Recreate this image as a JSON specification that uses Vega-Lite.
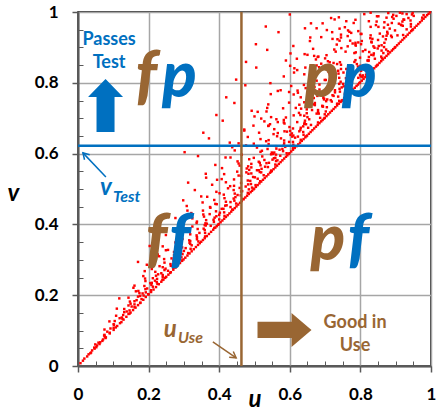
{
"$schema": "https://vega.github.io/schema/vega-lite/v6.json",
"width": 353, "height": 354,
"autosize": "none",
"padding": {"left": 78, "top": 12, "right": 6, "bottom": 48},
"config": {"view": {"stroke": "#000000", "strokeWidth": 1.5}, "font": "Lato"},
"resolve": {"axis": {"x": "independent", "y": "independent"}},
"layer": [
{
"data": {"values": [
{"u":0.007,"v":0.008},{"u":0.014,"v":0.015},{"u":0.018,"v":0.021},{"u":0.026,"v":0.027},{"u":0.030,"v":0.033},{"u":0.037,"v":0.038},{"u":0.040,"v":0.044},{"u":0.047,"v":0.049},
{"u":0.052,"v":0.053},{"u":0.054,"v":0.058},{"u":0.061,"v":0.062},{"u":0.058,"v":0.066},{"u":0.069,"v":0.071},{"u":0.071,"v":0.075},{"u":0.079,"v":0.081},{"u":0.074,"v":0.086},{"u":0.090,"v":0.092},{"u":0.083,"v":0.097},
{"u":0.101,"v":0.102},{"u":0.092,"v":0.106},{"u":0.107,"v":0.109},{"u":0.111,"v":0.113},{"u":0.101,"v":0.118},{"u":0.119,"v":0.121},{"u":0.089,"v":0.126},{"u":0.129,"v":0.131},{"u":0.118,"v":0.135},{"u":0.137,"v":0.139},{"u":0.128,"v":0.144},{"u":0.146,"v":0.148},
{"u":0.149,"v":0.151},{"u":0.138,"v":0.154},{"u":0.156,"v":0.158},{"u":0.131,"v":0.161},{"u":0.163,"v":0.165},{"u":0.152,"v":0.168},{"u":0.170,"v":0.172},{"u":0.149,"v":0.176},{"u":0.177,"v":0.179},{"u":0.160,"v":0.183},{"u":0.185,"v":0.187},{"u":0.117,"v":0.191},{"u":0.192,"v":0.195},{"u":0.176,"v":0.198},
{"u":0.200,"v":0.202},{"u":0.183,"v":0.205},{"u":0.207,"v":0.209},{"u":0.171,"v":0.212},{"u":0.214,"v":0.216},{"u":0.196,"v":0.219},{"u":0.221,"v":0.223},{"u":0.160,"v":0.227},{"u":0.229,"v":0.231},{"u":0.205,"v":0.234},{"u":0.236,"v":0.238},{"u":0.218,"v":0.241},{"u":0.242,"v":0.244},{"u":0.190,"v":0.247},{"u":0.247,"v":0.249},
{"u":0.250,"v":0.252},{"u":0.221,"v":0.255},{"u":0.256,"v":0.258},{"u":0.236,"v":0.262},{"u":0.263,"v":0.265},{"u":0.189,"v":0.268},{"u":0.270,"v":0.272},{"u":0.248,"v":0.275},{"u":0.276,"v":0.278},{"u":0.231,"v":0.282},{"u":0.283,"v":0.285},{"u":0.262,"v":0.288},{"u":0.289,"v":0.291},{"u":0.170,"v":0.294},{"u":0.295,"v":0.297},{"u":0.271,"v":0.299},
{"u":0.299,"v":0.301},{"u":0.265,"v":0.304},{"u":0.304,"v":0.306},{"u":0.281,"v":0.309},{"u":0.310,"v":0.312},{"u":0.226,"v":0.315},{"u":0.316,"v":0.318},{"u":0.292,"v":0.321},{"u":0.322,"v":0.324},{"u":0.249,"v":0.327},{"u":0.328,"v":0.330},{"u":0.305,"v":0.333},{"u":0.334,"v":0.336},{"u":0.203,"v":0.339},{"u":0.340,"v":0.342},{"u":0.318,"v":0.345},{"u":0.345,"v":0.347},{"u":0.276,"v":0.349},
{"u":0.349,"v":0.351},{"u":0.318,"v":0.353},{"u":0.354,"v":0.356},{"u":0.296,"v":0.359},{"u":0.359,"v":0.361},{"u":0.337,"v":0.364},{"u":0.365,"v":0.367},{"u":0.249,"v":0.370},{"u":0.371,"v":0.373},{"u":0.344,"v":0.376},{"u":0.377,"v":0.379},{"u":0.308,"v":0.382},{"u":0.383,"v":0.385},{"u":0.356,"v":0.388},{"u":0.389,"v":0.391},{"u":0.221,"v":0.393},{"u":0.393,"v":0.395},{"u":0.362,"v":0.397},{"u":0.397,"v":0.399},
{"u":0.399,"v":0.401},{"u":0.361,"v":0.403},{"u":0.404,"v":0.406},{"u":0.337,"v":0.408},{"u":0.409,"v":0.411},{"u":0.384,"v":0.413},{"u":0.414,"v":0.416},{"u":0.276,"v":0.418},{"u":0.419,"v":0.421},{"u":0.392,"v":0.423},{"u":0.424,"v":0.426},{"u":0.355,"v":0.428},{"u":0.429,"v":0.431},{"u":0.402,"v":0.433},{"u":0.434,"v":0.436},{"u":0.310,"v":0.439},{"u":0.439,"v":0.441},{"u":0.412,"v":0.444},{"u":0.444,"v":0.446},{"u":0.374,"v":0.449},
{"u":0.449,"v":0.451},{"u":0.417,"v":0.453},{"u":0.454,"v":0.456},{"u":0.389,"v":0.458},{"u":0.459,"v":0.461},{"u":0.432,"v":0.463},{"u":0.464,"v":0.466},{"u":0.298,"v":0.468},{"u":0.469,"v":0.471},{"u":0.441,"v":0.473},{"u":0.474,"v":0.476},{"u":0.366,"v":0.478},{"u":0.479,"v":0.481},{"u":0.452,"v":0.483},{"u":0.484,"v":0.486},{"u":0.401,"v":0.488},{"u":0.489,"v":0.491},{"u":0.462,"v":0.493},{"u":0.493,"v":0.495},{"u":0.331,"v":0.497},{"u":0.497,"v":0.499},
{"u":0.499,"v":0.501},{"u":0.458,"v":0.503},{"u":0.504,"v":0.506},{"u":0.431,"v":0.508},{"u":0.509,"v":0.511},{"u":0.482,"v":0.513},{"u":0.514,"v":0.516},{"u":0.312,"v":0.518},{"u":0.519,"v":0.521},{"u":0.488,"v":0.523},{"u":0.524,"v":0.526},{"u":0.407,"v":0.528},{"u":0.529,"v":0.531},{"u":0.501,"v":0.533},{"u":0.534,"v":0.536},{"u":0.455,"v":0.538},{"u":0.539,"v":0.541},{"u":0.362,"v":0.543},{"u":0.544,"v":0.546},{"u":0.515,"v":0.548},{"u":0.547,"v":0.549},{"u":0.477,"v":0.547},
{"u":0.549,"v":0.551},{"u":0.507,"v":0.553},{"u":0.554,"v":0.556},{"u":0.478,"v":0.558},{"u":0.559,"v":0.561},{"u":0.530,"v":0.563},{"u":0.564,"v":0.566},{"u":0.389,"v":0.568},{"u":0.569,"v":0.571},{"u":0.534,"v":0.573},{"u":0.574,"v":0.576},{"u":0.452,"v":0.578},{"u":0.579,"v":0.581},{"u":0.551,"v":0.583},{"u":0.584,"v":0.586},{"u":0.498,"v":0.588},{"u":0.589,"v":0.591},{"u":0.340,"v":0.593},{"u":0.593,"v":0.595},{"u":0.561,"v":0.597},{"u":0.597,"v":0.599},{"u":0.515,"v":0.574},{"u":0.432,"v":0.589},
{"u":0.599,"v":0.601},{"u":0.556,"v":0.603},{"u":0.604,"v":0.606},{"u":0.521,"v":0.608},{"u":0.609,"v":0.611},{"u":0.579,"v":0.613},{"u":0.614,"v":0.616},{"u":0.437,"v":0.618},{"u":0.619,"v":0.621},{"u":0.583,"v":0.623},{"u":0.624,"v":0.626},{"u":0.498,"v":0.628},{"u":0.629,"v":0.631},{"u":0.598,"v":0.633},{"u":0.634,"v":0.636},{"u":0.540,"v":0.638},{"u":0.639,"v":0.641},{"u":0.371,"v":0.643},{"u":0.644,"v":0.646},{"u":0.607,"v":0.648},{"u":0.647,"v":0.649},{"u":0.562,"v":0.614},{"u":0.455,"v":0.629},{"u":0.302,"v":0.604},
{"u":0.649,"v":0.651},{"u":0.602,"v":0.653},{"u":0.654,"v":0.656},{"u":0.566,"v":0.658},{"u":0.659,"v":0.661},{"u":0.627,"v":0.663},{"u":0.664,"v":0.666},{"u":0.471,"v":0.668},{"u":0.669,"v":0.671},{"u":0.631,"v":0.673},{"u":0.674,"v":0.676},{"u":0.539,"v":0.678},{"u":0.679,"v":0.681},{"u":0.646,"v":0.683},{"u":0.684,"v":0.686},{"u":0.583,"v":0.688},{"u":0.689,"v":0.691},{"u":0.410,"v":0.693},{"u":0.693,"v":0.695},{"u":0.655,"v":0.697},{"u":0.697,"v":0.699},{"u":0.601,"v":0.664},{"u":0.497,"v":0.679},{"u":0.621,"v":0.689},{"u":0.355,"v":0.659},
{"u":0.699,"v":0.701},{"u":0.650,"v":0.703},{"u":0.704,"v":0.706},{"u":0.611,"v":0.708},{"u":0.709,"v":0.711},{"u":0.676,"v":0.713},{"u":0.714,"v":0.716},{"u":0.509,"v":0.718},{"u":0.719,"v":0.721},{"u":0.680,"v":0.723},{"u":0.724,"v":0.726},{"u":0.581,"v":0.728},{"u":0.729,"v":0.731},{"u":0.694,"v":0.733},{"u":0.734,"v":0.736},{"u":0.627,"v":0.738},{"u":0.739,"v":0.741},{"u":0.443,"v":0.743},{"u":0.744,"v":0.746},{"u":0.703,"v":0.748},{"u":0.747,"v":0.749},{"u":0.648,"v":0.714},{"u":0.536,"v":0.729},{"u":0.668,"v":0.739},{"u":0.392,"v":0.709},{"u":0.598,"v":0.744},
{"u":0.749,"v":0.751},{"u":0.697,"v":0.753},{"u":0.754,"v":0.756},{"u":0.655,"v":0.758},{"u":0.759,"v":0.761},{"u":0.724,"v":0.763},{"u":0.764,"v":0.766},{"u":0.546,"v":0.768},{"u":0.769,"v":0.771},{"u":0.728,"v":0.773},{"u":0.774,"v":0.776},{"u":0.622,"v":0.778},{"u":0.779,"v":0.781},{"u":0.741,"v":0.783},{"u":0.784,"v":0.786},{"u":0.670,"v":0.788},{"u":0.789,"v":0.791},{"u":0.474,"v":0.793},{"u":0.793,"v":0.795},{"u":0.751,"v":0.797},{"u":0.797,"v":0.799},{"u":0.694,"v":0.764},{"u":0.574,"v":0.779},{"u":0.713,"v":0.789},{"u":0.420,"v":0.759},{"u":0.640,"v":0.794},{"u":0.598,"v":0.774},
{"u":0.799,"v":0.801},{"u":0.744,"v":0.803},{"u":0.804,"v":0.806},{"u":0.699,"v":0.808},{"u":0.809,"v":0.811},{"u":0.772,"v":0.813},{"u":0.814,"v":0.816},{"u":0.583,"v":0.818},{"u":0.819,"v":0.821},{"u":0.776,"v":0.823},{"u":0.824,"v":0.826},{"u":0.663,"v":0.828},{"u":0.829,"v":0.831},{"u":0.789,"v":0.833},{"u":0.834,"v":0.836},{"u":0.714,"v":0.838},{"u":0.839,"v":0.841},{"u":0.505,"v":0.843},{"u":0.844,"v":0.846},{"u":0.800,"v":0.848},{"u":0.847,"v":0.849},{"u":0.740,"v":0.814},{"u":0.612,"v":0.829},{"u":0.760,"v":0.839},{"u":0.448,"v":0.809},{"u":0.683,"v":0.844},{"u":0.641,"v":0.824},{"u":0.737,"v":0.834},
{"u":0.849,"v":0.851},{"u":0.790,"v":0.853},{"u":0.854,"v":0.856},{"u":0.742,"v":0.858},{"u":0.859,"v":0.861},{"u":0.820,"v":0.863},{"u":0.864,"v":0.866},{"u":0.620,"v":0.868},{"u":0.869,"v":0.871},{"u":0.824,"v":0.873},{"u":0.874,"v":0.876},{"u":0.704,"v":0.878},{"u":0.879,"v":0.881},{"u":0.838,"v":0.883},{"u":0.884,"v":0.886},{"u":0.758,"v":0.888},{"u":0.889,"v":0.891},{"u":0.536,"v":0.893},{"u":0.893,"v":0.895},{"u":0.849,"v":0.897},{"u":0.897,"v":0.899},{"u":0.786,"v":0.864},{"u":0.650,"v":0.879},{"u":0.807,"v":0.889},{"u":0.476,"v":0.859},{"u":0.726,"v":0.894},{"u":0.681,"v":0.874},{"u":0.783,"v":0.884},{"u":0.700,"v":0.869},
{"u":0.899,"v":0.901},{"u":0.837,"v":0.903},{"u":0.904,"v":0.906},{"u":0.786,"v":0.908},{"u":0.909,"v":0.911},{"u":0.868,"v":0.913},{"u":0.914,"v":0.916},{"u":0.657,"v":0.918},{"u":0.919,"v":0.921},{"u":0.872,"v":0.923},{"u":0.924,"v":0.926},{"u":0.745,"v":0.928},{"u":0.929,"v":0.931},{"u":0.887,"v":0.933},{"u":0.934,"v":0.936},{"u":0.803,"v":0.938},{"u":0.939,"v":0.941},{"u":0.568,"v":0.943},{"u":0.944,"v":0.946},{"u":0.898,"v":0.948},{"u":0.947,"v":0.949},{"u":0.832,"v":0.914},{"u":0.689,"v":0.929},{"u":0.855,"v":0.939},{"u":0.504,"v":0.909},{"u":0.769,"v":0.944},{"u":0.721,"v":0.924},{"u":0.829,"v":0.934},{"u":0.741,"v":0.919},{"u":0.610,"v":0.904},
{"u":0.949,"v":0.951},{"u":0.883,"v":0.953},{"u":0.954,"v":0.956},{"u":0.829,"v":0.958},{"u":0.959,"v":0.961},{"u":0.916,"v":0.963},{"u":0.964,"v":0.966},{"u":0.693,"v":0.968},{"u":0.969,"v":0.971},{"u":0.919,"v":0.973},{"u":0.974,"v":0.976},{"u":0.786,"v":0.978},{"u":0.979,"v":0.981},{"u":0.936,"v":0.983},{"u":0.984,"v":0.986},{"u":0.847,"v":0.988},{"u":0.989,"v":0.991},{"u":0.600,"v":0.993},{"u":0.993,"v":0.995},{"u":0.948,"v":0.997},{"u":0.997,"v":0.999},{"u":0.878,"v":0.964},{"u":0.727,"v":0.979},{"u":0.902,"v":0.989},{"u":0.532,"v":0.959},{"u":0.811,"v":0.994},{"u":0.760,"v":0.974},{"u":0.874,"v":0.984},{"u":0.781,"v":0.969},{"u":0.643,"v":0.954},{"u":0.912,"v":0.998},
{"u":0.035,"v":0.036},{"u":0.046,"v":0.052},{"u":0.063,"v":0.067},{"u":0.049,"v":0.061},{"u":0.078,"v":0.079},{"u":0.076,"v":0.083},{"u":0.075,"v":0.088},{"u":0.090,"v":0.094},{"u":0.075,"v":0.103},{"u":0.101,"v":0.108},{"u":0.102,"v":0.116},{"u":0.123,"v":0.124},{"u":0.104,"v":0.127},{"u":0.126,"v":0.133},{"u":0.124,"v":0.137},{"u":0.108,"v":0.142},{"u":0.143,"v":0.147},{"u":0.131,"v":0.152},{"u":0.146,"v":0.157},{"u":0.110,"v":0.162},{"u":0.160,"v":0.166},{"u":0.143,"v":0.171},{"u":0.160,"v":0.174},{"u":0.176,"v":0.178},{"u":0.147,"v":0.182},{"u":0.166,"v":0.186},{"u":0.180,"v":0.189},{"u":0.143,"v":0.193},{"u":0.170,"v":0.196},{"u":0.186,"v":0.199},
{"u":0.199,"v":0.203},{"u":0.174,"v":0.206},{"u":0.192,"v":0.208},{"u":0.164,"v":0.211},{"u":0.207,"v":0.214},{"u":0.191,"v":0.217},{"u":0.157,"v":0.221},{"u":0.212,"v":0.224},{"u":0.188,"v":0.226},{"u":0.208,"v":0.229},{"u":0.225,"v":0.232},{"u":0.209,"v":0.235},{"u":0.223,"v":0.237},{"u":0.191,"v":0.240},{"u":0.239,"v":0.243},{"u":0.224,"v":0.246},{"u":0.212,"v":0.248},{"u":0.240,"v":0.251},{"u":0.185,"v":0.254},{"u":0.240,"v":0.257},{"u":0.227,"v":0.259},{"u":0.261,"v":0.263},{"u":0.219,"v":0.266},{"u":0.255,"v":0.269},{"u":0.245,"v":0.271},{"u":0.209,"v":0.274},{"u":0.270,"v":0.277},{"u":0.240,"v":0.279},{"u":0.263,"v":0.283},{"u":0.195,"v":0.286},{"u":0.278,"v":0.289},{"u":0.245,"v":0.292},{"u":0.271,"v":0.296},{"u":0.294,"v":0.298},{"u":0.244,"v":0.302},{"u":0.273,"v":0.305},{"u":0.293,"v":0.307},{"u":0.230,"v":0.310},{"u":0.272,"v":0.313},{"u":0.296,"v":0.316},{"u":0.312,"v":0.319},{"u":0.272,"v":0.322},{"u":0.300,"v":0.325},{"u":0.255,"v":0.328},{"u":0.319,"v":0.331},{"u":0.295,"v":0.335},{"u":0.240,"v":0.338},{"u":0.322,"v":0.341},{"u":0.286,"v":0.344},{"u":0.316,"v":0.348},{"u":0.341,"v":0.352},{"u":0.315,"v":0.355},{"u":0.337,"v":0.358},{"u":0.288,"v":0.362},{"u":0.360,"v":0.366},{"u":0.336,"v":0.369},{"u":0.318,"v":0.372},{"u":0.360,"v":0.376},{"u":0.277,"v":0.380},{"u":0.359,"v":0.384},{"u":0.339,"v":0.387},{"u":0.386,"v":0.390},{"u":0.324,"v":0.394},{"u":0.376,"v":0.396},{"u":0.359,"v":0.398},
{"u":0.365,"v":0.402},{"u":0.336,"v":0.404},{"u":0.385,"v":0.407},{"u":0.290,"v":0.409},{"u":0.363,"v":0.412},{"u":0.400,"v":0.414},{"u":0.324,"v":0.417},{"u":0.387,"v":0.419},{"u":0.357,"v":0.422},{"u":0.415,"v":0.424},{"u":0.400,"v":0.427},{"u":0.373,"v":0.429},{"u":0.321,"v":0.432},{"u":0.414,"v":0.434},{"u":0.391,"v":0.437},{"u":0.354,"v":0.439},{"u":0.437,"v":0.442},{"u":0.407,"v":0.444},{"u":0.375,"v":0.447},{"u":0.432,"v":0.449},{"u":0.308,"v":0.452},{"u":0.421,"v":0.454},{"u":0.393,"v":0.457},{"u":0.448,"v":0.459},{"u":0.353,"v":0.462},{"u":0.419,"v":0.464},{"u":0.443,"v":0.467},{"u":0.386,"v":0.469},{"u":0.468,"v":0.472},{"u":0.415,"v":0.474},{"u":0.446,"v":0.477},{"u":0.349,"v":0.479},{"u":0.461,"v":0.482},{"u":0.413,"v":0.484},{"u":0.444,"v":0.487},{"u":0.481,"v":0.489},{"u":0.392,"v":0.492},{"u":0.465,"v":0.494},{"u":0.441,"v":0.497},{"u":0.484,"v":0.499},
{"u":0.425,"v":0.502},{"u":0.493,"v":0.504},{"u":0.475,"v":0.507},{"u":0.442,"v":0.509},{"u":0.380,"v":0.512},{"u":0.490,"v":0.514},{"u":0.462,"v":0.517},{"u":0.419,"v":0.519},{"u":0.516,"v":0.522},{"u":0.481,"v":0.524},{"u":0.442,"v":0.527},{"u":0.509,"v":0.529},{"u":0.363,"v":0.532},{"u":0.496,"v":0.534},{"u":0.462,"v":0.537},{"u":0.526,"v":0.539},{"u":0.414,"v":0.542},{"u":0.491,"v":0.544},{"u":0.519,"v":0.547},{"u":0.451,"v":0.549},{"u":0.547,"v":0.552},{"u":0.485,"v":0.554},{"u":0.520,"v":0.557},{"u":0.408,"v":0.559},{"u":0.538,"v":0.562},{"u":0.482,"v":0.564},{"u":0.517,"v":0.567},{"u":0.559,"v":0.569},{"u":0.455,"v":0.572},{"u":0.541,"v":0.574},{"u":0.512,"v":0.577},{"u":0.561,"v":0.579},{"u":0.528,"v":0.582},{"u":0.485,"v":0.584},{"u":0.555,"v":0.587},{"u":0.418,"v":0.589},{"u":0.522,"v":0.592},{"u":0.573,"v":0.594},{"u":0.464,"v":0.597},{"u":0.553,"v":0.599},{"u":0.491,"v":0.571},{"u":0.512,"v":0.553},{"u":0.565,"v":0.581},{"u":0.458,"v":0.566},{"u":0.483,"v":0.543},{"u":0.559,"v":0.588},{"u":0.394,"v":0.526},{"u":0.503,"v":0.511},{"u":0.547,"v":0.598},{"u":0.491,"v":0.561},
{"u":0.591,"v":0.601},{"u":0.549,"v":0.603},{"u":0.517,"v":0.605},{"u":0.581,"v":0.607},{"u":0.444,"v":0.609},{"u":0.571,"v":0.611},{"u":0.537,"v":0.613},{"u":0.609,"v":0.615},{"u":0.507,"v":0.617},{"u":0.587,"v":0.619},{"u":0.561,"v":0.621},{"u":0.476,"v":0.623},{"u":0.610,"v":0.625},{"u":0.540,"v":0.627},{"u":0.584,"v":0.629},{"u":0.430,"v":0.631},{"u":0.609,"v":0.633},{"u":0.533,"v":0.635},{"u":0.584,"v":0.637},{"u":0.631,"v":0.639},{"u":0.517,"v":0.641},{"u":0.575,"v":0.643},{"u":0.615,"v":0.645},{"u":0.481,"v":0.647},{"u":0.564,"v":0.649},{"u":0.610,"v":0.651},{"u":0.639,"v":0.653},{"u":0.554,"v":0.655},{"u":0.606,"v":0.657},{"u":0.513,"v":0.659},{"u":0.638,"v":0.661},{"u":0.585,"v":0.663},{"u":0.471,"v":0.665},{"u":0.630,"v":0.667},{"u":0.556,"v":0.669},{"u":0.609,"v":0.671},{"u":0.652,"v":0.673},{"u":0.599,"v":0.675},{"u":0.638,"v":0.677},{"u":0.540,"v":0.679},
{"u":0.660,"v":0.681},{"u":0.544,"v":0.683},{"u":0.585,"v":0.685},{"u":0.642,"v":0.687},{"u":0.566,"v":0.689},{"u":0.528,"v":0.691},{"u":0.643,"v":0.693},{"u":0.583,"v":0.695},{"u":0.562,"v":0.697},{"u":0.519,"v":0.699},{"u":0.686,"v":0.701},{"u":0.547,"v":0.703},{"u":0.500,"v":0.705},{"u":0.641,"v":0.707},{"u":0.630,"v":0.709},{"u":0.699,"v":0.711},{"u":0.682,"v":0.713},{"u":0.626,"v":0.715},{"u":0.680,"v":0.717},{"u":0.702,"v":0.719},{"u":0.492,"v":0.721},{"u":0.663,"v":0.723},{"u":0.648,"v":0.725},{"u":0.632,"v":0.727},{"u":0.617,"v":0.729},{"u":0.705,"v":0.731},{"u":0.693,"v":0.733},{"u":0.692,"v":0.735},{"u":0.671,"v":0.737},{"u":0.539,"v":0.739},{"u":0.734,"v":0.741},{"u":0.671,"v":0.743},{"u":0.641,"v":0.745},{"u":0.719,"v":0.747},{"u":0.740,"v":0.749},{"u":0.716,"v":0.751},{"u":0.706,"v":0.753},{"u":0.697,"v":0.755},{"u":0.668,"v":0.757},{"u":0.631,"v":0.759},
{"u":0.737,"v":0.761},{"u":0.678,"v":0.763},{"u":0.721,"v":0.765},{"u":0.611,"v":0.767},{"u":0.756,"v":0.769},{"u":0.702,"v":0.771},{"u":0.660,"v":0.773},{"u":0.742,"v":0.775},{"u":0.566,"v":0.777},{"u":0.728,"v":0.779},{"u":0.684,"v":0.781},{"u":0.776,"v":0.783},{"u":0.645,"v":0.785},{"u":0.747,"v":0.787},{"u":0.712,"v":0.789},{"u":0.604,"v":0.791},{"u":0.774,"v":0.793},{"u":0.684,"v":0.795},{"u":0.740,"v":0.797},{"u":0.545,"v":0.799},{"u":0.623,"v":0.648},{"u":0.589,"v":0.702},{"u":0.695,"v":0.758},{"u":0.680,"v":0.688},{"u":0.623,"v":0.772},{"u":0.592,"v":0.662},{"u":0.753,"v":0.790},{"u":0.534,"v":0.719},{"u":0.647,"v":0.744},{"u":0.641,"v":0.684},
{"u":0.776,"v":0.801},{"u":0.768,"v":0.803},{"u":0.726,"v":0.804},{"u":0.676,"v":0.806},{"u":0.702,"v":0.808},{"u":0.714,"v":0.809},{"u":0.764,"v":0.811},{"u":0.759,"v":0.813},{"u":0.794,"v":0.814},{"u":0.806,"v":0.816},{"u":0.801,"v":0.818},{"u":0.774,"v":0.819},{"u":0.807,"v":0.821},{"u":0.816,"v":0.823},{"u":0.765,"v":0.824},{"u":0.738,"v":0.826},{"u":0.764,"v":0.828},{"u":0.752,"v":0.829},{"u":0.710,"v":0.831},{"u":0.791,"v":0.833},{"u":0.802,"v":0.834},{"u":0.621,"v":0.836},{"u":0.809,"v":0.838},{"u":0.745,"v":0.839},{"u":0.613,"v":0.841},{"u":0.644,"v":0.843},{"u":0.774,"v":0.844},{"u":0.793,"v":0.846},{"u":0.601,"v":0.848},{"u":0.676,"v":0.849},{"u":0.745,"v":0.851},{"u":0.734,"v":0.853},{"u":0.689,"v":0.854},{"u":0.724,"v":0.856},{"u":0.713,"v":0.858},{"u":0.783,"v":0.859},{"u":0.708,"v":0.861},{"u":0.589,"v":0.863},{"u":0.823,"v":0.864},{"u":0.674,"v":0.866},
{"u":0.841,"v":0.868},{"u":0.861,"v":0.869},{"u":0.799,"v":0.871},{"u":0.679,"v":0.873},{"u":0.859,"v":0.874},{"u":0.669,"v":0.876},{"u":0.837,"v":0.878},{"u":0.831,"v":0.879},{"u":0.642,"v":0.881},{"u":0.602,"v":0.883},{"u":0.865,"v":0.884},{"u":0.787,"v":0.886},{"u":0.730,"v":0.888},{"u":0.878,"v":0.889},{"u":0.860,"v":0.891},{"u":0.814,"v":0.893},{"u":0.873,"v":0.894},{"u":0.666,"v":0.896},{"u":0.746,"v":0.898},{"u":0.840,"v":0.899},{"u":0.867,"v":0.901},{"u":0.764,"v":0.903},{"u":0.852,"v":0.904},{"u":0.860,"v":0.906},{"u":0.733,"v":0.908},{"u":0.802,"v":0.909},{"u":0.778,"v":0.911},{"u":0.786,"v":0.913},{"u":0.794,"v":0.914},{"u":0.831,"v":0.916},{"u":0.804,"v":0.918},{"u":0.771,"v":0.919},{"u":0.850,"v":0.921},{"u":0.735,"v":0.923},{"u":0.834,"v":0.924},{"u":0.828,"v":0.926},{"u":0.658,"v":0.928},{"u":0.889,"v":0.929},{"u":0.864,"v":0.931},{"u":0.874,"v":0.933},
{"u":0.905,"v":0.934},{"u":0.745,"v":0.936},{"u":0.801,"v":0.938},{"u":0.877,"v":0.939},{"u":0.774,"v":0.941},{"u":0.720,"v":0.943},{"u":0.876,"v":0.944},{"u":0.794,"v":0.946},{"u":0.765,"v":0.948},{"u":0.705,"v":0.949},{"u":0.931,"v":0.951},{"u":0.741,"v":0.953},{"u":0.676,"v":0.954},{"u":0.867,"v":0.956},{"u":0.851,"v":0.958},{"u":0.943,"v":0.959},{"u":0.920,"v":0.961},{"u":0.844,"v":0.963},{"u":0.915,"v":0.964},{"u":0.943,"v":0.966},{"u":0.660,"v":0.968},{"u":0.889,"v":0.969},{"u":0.868,"v":0.971},{"u":0.846,"v":0.973},{"u":0.824,"v":0.974},{"u":0.942,"v":0.976},{"u":0.924,"v":0.978},{"u":0.922,"v":0.979},{"u":0.894,"v":0.981},{"u":0.717,"v":0.983},{"u":0.975,"v":0.984},{"u":0.890,"v":0.986},{"u":0.851,"v":0.988},{"u":0.951,"v":0.989},{"u":0.979,"v":0.991},{"u":0.946,"v":0.993},{"u":0.931,"v":0.994},{"u":0.919,"v":0.996},{"u":0.879,"v":0.997},{"u":0.829,"v":0.998},
{"u":0.823,"v":0.862},{"u":0.787,"v":0.905},{"u":0.921,"v":0.935},{"u":0.756,"v":0.957},{"u":0.825,"v":0.887},{"u":0.893,"v":0.992},{"u":0.799,"v":0.822},{"u":0.764,"v":0.932},{"u":0.909,"v":0.967},{"u":0.739,"v":0.985}
]},
"mark": {"type": "square", "size": 6, "color": "#ff0000", "opacity": 1},
"encoding": {
"x": {"field": "u", "type": "quantitative", "scale": {"domain": [0, 1], "nice": false, "zero": true},
 "axis": {"orient": "bottom", "values": [0, 0.2, 0.4, 0.6, 0.8, 1], "format": "~g", "title": "u", "labelFlush": false,
  "grid": true, "gridColor": "#a6a6a6", "gridWidth": 1.5, "domainColor": "#595959", "domainWidth": 2,
  "tickColor": "#595959", "tickWidth": 1.5, "tickSize": 6, "labelFont": "Lato", "labelFontSize": 17, "labelFontWeight": "bold",
  "labelColor": "#000000", "labelPadding": 14, "titleFont": "Lato", "titleFontSize": 24, "titleFontStyle": "italic",
  "titleFontWeight": "bold", "titleColor": "#000000", "titleBaseline": "alphabetic", "titleY": 40}},
"y": {"field": "v", "type": "quantitative", "scale": {"domain": [0, 1], "nice": false, "zero": true},
 "axis": {"orient": "left", "values": [0, 0.2, 0.4, 0.6, 0.8, 1], "format": "~g", "title": "v", "labelFlush": false,
  "grid": true, "gridColor": "#a6a6a6", "gridWidth": 1.5, "domainColor": "#595959", "domainWidth": 2,
  "tickColor": "#595959", "tickWidth": 1.5, "tickSize": 6, "labelFont": "Lato", "labelFontSize": 17, "labelFontWeight": "bold",
  "labelColor": "#000000", "labelPadding": 14, "titleFont": "Lato", "titleFontSize": 24, "titleFontStyle": "italic",
  "titleFontWeight": "bold", "titleColor": "#000000", "titleAngle": 0, "titleAlign": "center", "titleBaseline": "alphabetic", "titleX": -65, "titleY": 188}}
}
},
{
"data": {"values": [{"v": 0.622}]},
"mark": {"type": "rule", "color": "#0070C0", "strokeWidth": 2.5},
"encoding": {"y": {"field": "v", "type": "quantitative",
 "axis": {"orient": "left", "values": [0.05, 0.1, 0.15, 0.25, 0.3, 0.35, 0.45, 0.5, 0.55, 0.65, 0.7, 0.75, 0.85, 0.9, 0.95], "tickSize": -5, "labels": false, "grid": false, "domain": false, "title": null, "tickColor": "#595959", "tickWidth": 1}}}
},
{
"data": {"values": [{"u": 0.463}]},
"mark": {"type": "rule", "color": "#996633", "strokeWidth": 2.5},
"encoding": {"x": {"field": "u", "type": "quantitative",
 "axis": {"orient": "bottom", "values": [0.05, 0.1, 0.15, 0.25, 0.3, 0.35, 0.45, 0.5, 0.55, 0.65, 0.7, 0.75, 0.85, 0.9, 0.95], "tickSize": -5, "labels": false, "grid": false, "domain": false, "title": null, "tickColor": "#595959", "tickWidth": 1}}}
},
{
"data": {"values": [
{"u": 0.079, "v": 0.534, "u2": 0.014, "v2": 0.602, "c": "test"},
{"u": 0.382, "v": 0.068, "u2": 0.448, "v2": 0.023, "c": "use"}]},
"mark": {"type": "rule", "strokeWidth": 1.5},
"encoding": {
"x": {"field": "u", "type": "quantitative", "axis": null}, "y": {"field": "v", "type": "quantitative", "axis": null},
"x2": {"field": "u2"}, "y2": {"field": "v2"},
"color": {"field": "c", "type": "nominal", "scale": {"domain": ["use", "test"], "range": ["#996633", "#0070C0"]}, "legend": null}}
},
{
"data": {"values": [{"u": 0.014, "v": 0.602, "c": "test"}]},
"mark": {"type": "point", "shape": "M -1 -0.6 L 0 0 L -1 0.6", "filled": false, "size": 144, "angle": 226, "strokeWidth": 1.5, "opacity": 1},
"encoding": {
"x": {"field": "u", "type": "quantitative", "axis": null}, "y": {"field": "v", "type": "quantitative", "axis": null},
"color": {"field": "c", "type": "nominal", "scale": {"domain": ["use", "test"], "range": ["#996633", "#0070C0"]}, "legend": null}}
},
{
"data": {"values": [{"u": 0.448, "v": 0.023, "c": "use"}]},
"mark": {"type": "point", "shape": "M -1 -0.6 L 0 0 L -1 0.6", "filled": false, "size": 144, "angle": 35, "strokeWidth": 1.5, "opacity": 1},
"encoding": {
"x": {"field": "u", "type": "quantitative", "axis": null}, "y": {"field": "v", "type": "quantitative", "axis": null},
"color": {"field": "c", "type": "nominal", "scale": {"domain": ["use", "test"], "range": ["#996633", "#0070C0"]}, "legend": null}}
},
{
"data": {"values": [{"u": 0.078, "v": 0.736, "c": "test"}]},
"mark": {"type": "point", "shape": "M 0 -1 L 0.66 -0.32 L 0.34 -0.32 L 0.34 1 L -0.34 1 L -0.34 -0.32 L -0.66 -0.32 Z", "filled": true, "size": 2809, "opacity": 1},
"encoding": {
"x": {"field": "u", "type": "quantitative", "axis": null}, "y": {"field": "v", "type": "quantitative", "axis": null},
"color": {"field": "c", "type": "nominal", "scale": {"domain": ["use", "test"], "range": ["#996633", "#0070C0"]}, "legend": null}}
},
{
"data": {"values": [{"u": 0.585, "v": 0.102, "c": "use"}]},
"mark": {"type": "point", "shape": "M 1 0 L 0.26 -0.63 L 0.26 -0.3 L -1 -0.3 L -1 0.3 L 0.26 0.3 L 0.26 0.63 Z", "filled": true, "size": 2916, "opacity": 1},
"encoding": {
"x": {"field": "u", "type": "quantitative", "axis": null}, "y": {"field": "v", "type": "quantitative", "axis": null},
"color": {"field": "c", "type": "nominal", "scale": {"domain": ["use", "test"], "range": ["#996633", "#0070C0"]}, "legend": null}}
},
{
"data": {"values": [
{"t": "f", "u": 0.193, "v": 0.76, "c": "use"}, {"t": "p", "u": 0.287, "v": 0.76, "c": "test"},
{"t": "p", "u": 0.690, "v": 0.76, "c": "use"}, {"t": "p", "u": 0.797, "v": 0.76, "c": "test"},
{"t": "f", "u": 0.222, "v": 0.30, "c": "use"}, {"t": "f", "u": 0.289, "v": 0.30, "c": "test"},
{"t": "p", "u": 0.708, "v": 0.30, "c": "use"}, {"t": "f", "u": 0.794, "v": 0.30, "c": "test"}]},
"mark": {"type": "text", "font": "Lato", "fontSize": 64, "fontStyle": "italic", "fontWeight": 900, "align": "center", "baseline": "alphabetic"},
"encoding": {
"x": {"field": "u", "type": "quantitative", "axis": null}, "y": {"field": "v", "type": "quantitative", "axis": null},
"text": {"field": "t"},
"color": {"field": "c", "type": "nominal", "scale": {"domain": ["use", "test"], "range": ["#996633", "#0070C0"]}, "legend": null}}
},
{
"data": {"values": [
{"t": "Passes", "u": 0.088, "v": 0.921, "c": "test"}, {"t": "Test", "u": 0.088, "v": 0.856, "c": "test"},
{"t": "Good in", "u": 0.785, "v": 0.122, "c": "use"}, {"t": "Use", "u": 0.785, "v": 0.057, "c": "use"}]},
"mark": {"type": "text", "font": "Lato", "fontSize": 18, "fontWeight": "bold", "align": "center", "baseline": "middle"},
"encoding": {
"x": {"field": "u", "type": "quantitative", "axis": null}, "y": {"field": "v", "type": "quantitative", "axis": null},
"text": {"field": "t"},
"color": {"field": "c", "type": "nominal", "scale": {"domain": ["use", "test"], "range": ["#996633", "#0070C0"]}, "legend": null}}
},
{
"data": {"values": [
{"t": "v", "u": 0.096, "v": 0.483, "c": "test"}, {"t": "u", "u": 0.280, "v": 0.082, "c": "use"}]},
"mark": {"type": "text", "font": "Lato", "fontSize": 24, "fontStyle": "italic", "fontWeight": "bold", "align": "right", "baseline": "alphabetic"},
"encoding": {
"x": {"field": "u", "type": "quantitative", "axis": null}, "y": {"field": "v", "type": "quantitative", "axis": null},
"text": {"field": "t"},
"color": {"field": "c", "type": "nominal", "scale": {"domain": ["use", "test"], "range": ["#996633", "#0070C0"]}, "legend": null}}
},
{
"data": {"values": [
{"t": "Test", "u": 0.099, "v": 0.464, "c": "test"}, {"t": "Use", "u": 0.283, "v": 0.065, "c": "use"}]},
"mark": {"type": "text", "font": "Lato", "fontSize": 16, "fontStyle": "italic", "fontWeight": "bold", "align": "left", "baseline": "alphabetic"},
"encoding": {
"x": {"field": "u", "type": "quantitative", "axis": null}, "y": {"field": "v", "type": "quantitative", "axis": null},
"text": {"field": "t"},
"color": {"field": "c", "type": "nominal", "scale": {"domain": ["use", "test"], "range": ["#996633", "#0070C0"]}, "legend": null}}
}
]
}
